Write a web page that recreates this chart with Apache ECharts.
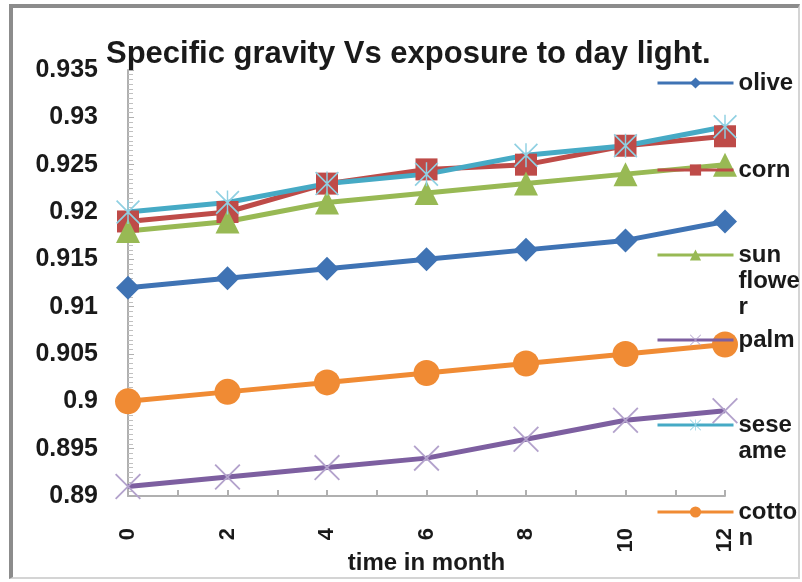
<!DOCTYPE html>
<html>
<head>
<meta charset="utf-8">
<script src="https://cdn.jsdelivr.net/npm/echarts@6/dist/echarts.min.js"></script>
<style>
    body { margin: 0; background: #fff; }
    #frame {
        position: absolute; left: 9px; top: 4px; width: 791px; height: 575px;
        box-sizing: border-box;
        border-left: 4px solid #8c8c8c; border-top: 4px solid #8c8c8c;
        border-right: 2px solid #d4d4d4; border-bottom: 2px solid #d4d4d4;
    }
    #chart { position: absolute; left: 0; top: 0; width: 802px; height: 582px; }
</style>
</head>
<body>
<div id="frame"></div>
<div id="chart"></div>
<script>
var months = [0, 2, 4, 6, 8, 10, 12];
var olive = [0.912, 0.913, 0.914, 0.915, 0.916, 0.917, 0.919];
var corn = [0.919, 0.920, 0.923, 0.9245, 0.925, 0.927, 0.928];
var sunFlower = [0.918, 0.919, 0.921, 0.922, 0.923, 0.924, 0.925];
var palm = [0.891, 0.892, 0.893, 0.894, 0.896, 0.898, 0.899];
var sesame = [0.920, 0.921, 0.923, 0.924, 0.926, 0.927, 0.929];
var cotton = [0.900, 0.901, 0.902, 0.903, 0.904, 0.905, 0.906];

var seriesNames = ['olive', 'corn', 'sun flower', 'palm', 'sesame', 'cotton'];
var legendLabels = ['olive', 'corn', 'sun\nflowe\nr', 'palm', 'sese\name', 'cotto\nn'];
var legendCenters = [83, 170, 255, 340, 425, 512];

var crossPath = 'path://M0,1L1,0L20,19L19,20Z M19,0L20,1L1,20L0,19Z';
var starPath = 'path://M0,1L1,0L20,19L19,20Z M19,0L20,1L1,20L0,19Z M9.4,0L10.6,0L10.6,20L9.4,20Z';
var lineH = 26;

function pairs(values) {
    return values.map(function (v, i) { return [months[i], v]; });
}

var myChart = echarts.init(document.getElementById('chart'));

// one legend per series; blank lines on top keep the first text line level with the icon
var legends = seriesNames.map(function (name, i) {
    var lines = legendLabels[i].split('\n');
    var text = lines.map(function () { return ' '; }).slice(1).concat(lines).join('\n');
    var total = lines.length * 2 - 1;
    return {
        data: [name],
        orient: 'vertical',
        left: 656,
        top: legendCenters[i] - total * lineH / 2,
        padding: 0,
        itemWidth: 76,
        itemHeight: 14,
        lineStyle: { width: 3 },
        formatter: function () { return text; },
        textStyle: {
            fontFamily: 'Liberation Sans',
            fontWeight: 'bold',
            fontSize: 24,
            color: '#1a1a1a',
            lineHeight: lineH
        }
    };
});

var option = {
    animation: false,
    title: {
        text: 'Specific gravity Vs exposure to day light.',
        left: 101,
        top: 34,
        textStyle: {
            fontFamily: 'Liberation Sans',
            fontWeight: 'bold',
            fontSize: 31,
            color: '#1a1a1a'
        }
    },
    legend: legends,
    grid: { left: 128, right: 77, top: 70, bottom: 86, outerBoundsMode: 'none', containLabel: false },
    xAxis: {
        type: 'value',
        min: 0,
        max: 12,
        interval: 1,
        name: 'time in month',
        nameLocation: 'middle',
        nameGap: 55,
        nameMoveOverlap: false,
        nameTextStyle: {
            fontFamily: 'Liberation Sans',
            fontWeight: 'bold',
            fontSize: 24,
            color: '#1a1a1a'
        },
        axisLine: { lineStyle: { color: '#b0b0b0', width: 2 } },
        axisTick: { inside: true, length: 6, lineStyle: { color: '#b0b0b0', width: 2 } },
        splitLine: { show: false },
        axisLabel: {
            rotate: 90,
            margin: 32,
            fontFamily: 'Liberation Sans',
            fontWeight: 'bold',
            fontSize: 22,
            color: '#1a1a1a',
            formatter: function (v) { return v % 2 === 0 ? String(v) : ''; }
        }
    },
    yAxis: {
        type: 'value',
        min: 0.89,
        max: 0.935,
        interval: 0.005,
        axisLine: { show: true, lineStyle: { color: '#b0b0b0', width: 2 } },
        axisTick: { show: true, inside: true, length: 6, lineStyle: { color: '#b0b0b0' } },
        minorTick: { show: true, splitNumber: 10, length: 5, lineStyle: { color: '#c0c0c0' } },
        splitLine: { show: false },
        axisLabel: {
            margin: 30,
            fontFamily: 'Liberation Sans',
            fontWeight: 'bold',
            fontSize: 25,
            color: '#1a1a1a',
            formatter: function (v) { return String(parseFloat(v.toFixed(3))); }
        }
    },
    series: [
        {
            name: 'olive', type: 'line', data: pairs(olive),
            symbol: 'diamond', symbolSize: 24,
            lineStyle: { width: 5, color: '#3f73b4' },
            itemStyle: { color: '#3f73b4' }
        },
        {
            name: 'corn', type: 'line', data: pairs(corn),
            symbol: 'rect', symbolSize: 22,
            lineStyle: { width: 5, color: '#be4b48' },
            itemStyle: { color: '#be4b48' }
        },
        {
            name: 'sun flower', type: 'line', data: pairs(sunFlower),
            symbol: 'triangle', symbolSize: 24,
            lineStyle: { width: 5, color: '#98b954' },
            itemStyle: { color: '#98b954' }
        },
        {
            name: 'palm', type: 'line', data: pairs(palm),
            symbol: crossPath, symbolSize: 26,
            lineStyle: { width: 5, color: '#7d5fa0' },
            itemStyle: { color: '#b3a2cc' }
        },
        {
            name: 'sesame', type: 'line', data: pairs(sesame),
            symbol: starPath, symbolSize: 24,
            lineStyle: { width: 5, color: '#46aac5' },
            itemStyle: { color: '#8fd0e2' }
        },
        {
            name: 'cotton', type: 'line', data: pairs(cotton),
            symbol: 'circle', symbolSize: 26,
            lineStyle: { width: 5, color: '#f08b34' },
            itemStyle: { color: '#f08b34' }
        }
    ]
};

myChart.setOption(option);
</script>
</body>
</html>
